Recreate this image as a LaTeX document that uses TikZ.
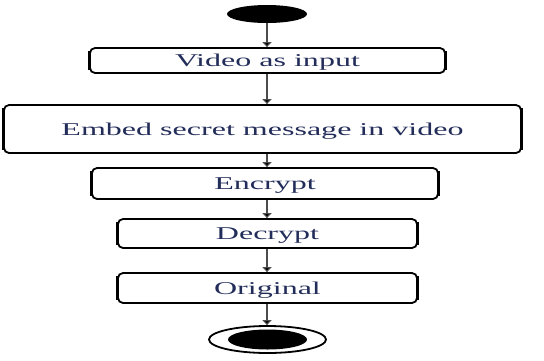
\documentclass[tikz,border=0pt]{standalone}
\usepackage{fontspec}
\setmainfont{Liberation Serif}
\usepackage{graphicx}
\usetikzlibrary{arrows.meta,shapes.geometric}
\definecolor{txt}{RGB}{35,45,90}
\newcommand{\widetext}[1]{\scalebox{1.78}[1]{#1}}
\begin{document}
\begin{tikzpicture}[x=1pt,y=-1pt,
  box/.style={draw, line width=1.8pt, rounded corners=5pt, inner sep=0pt,
    text height=16pt, text depth=4pt,
    font=\fontsize{18}{20}\selectfont, text=txt},
  side/.style={line width=3.2pt},
  flow/.style={draw=black!70, line width=1.1pt,
    -{Triangle[length=5pt,width=9pt,fill=black]}},
  blob/.style={ellipse, fill=black, inner sep=0pt}
]
\useasboundingbox (0,0) rectangle (544,360);
\node[blob, minimum width=80pt, minimum height=18pt] (s) at (267,14) {};
\node[box, minimum width=355pt, minimum height=25pt] (b1) at (267.5,60.5) {\widetext{Video as input}};
\node[box, minimum width=517pt, minimum height=48pt] (b2) at (262.5,129) {\widetext{Embed secret message in video}};
\node[box, minimum width=346pt, minimum height=31pt] (b3) at (265,183.5) {\widetext{Encrypt}};
\node[box, minimum width=299pt, minimum height=29pt] (b4) at (267.5,233.5) {\widetext{Decrypt}};
\node[box, minimum width=299pt, minimum height=30pt] (b5) at (267.5,288) {\widetext{Original}};
\foreach \b in {b1,b2,b3,b4,b5}{
  \draw[side] ([xshift=0.7pt,yshift=-4pt]\b.north west) -- ([xshift=0.7pt,yshift=4pt]\b.south west);
  \draw[side] ([xshift=-0.7pt,yshift=-4pt]\b.north east) -- ([xshift=-0.7pt,yshift=4pt]\b.south east);
}
\node[ellipse, draw, line width=1.8pt, minimum width=117pt, minimum height=27pt, inner sep=0pt] (e) at (267.5,339.5) {};
\node[blob, minimum width=79pt, minimum height=20pt] (ei) at (e.center) {};
\draw[flow] (s.south) -- (s.south |- b1.north);
\draw[flow] (b1.south -| s.south) -- (s.south |- b2.north);
\draw[flow] (b2.south -| s.south) -- (s.south |- b3.north);
\draw[flow] (b3.south -| s.south) -- (s.south |- b4.north);
\draw[flow] (b4.south -| s.south) -- (s.south |- b5.north);
\draw[flow] (b5.south -| s.south) -- (s.south |- e.north);
\end{tikzpicture}
\end{document}
